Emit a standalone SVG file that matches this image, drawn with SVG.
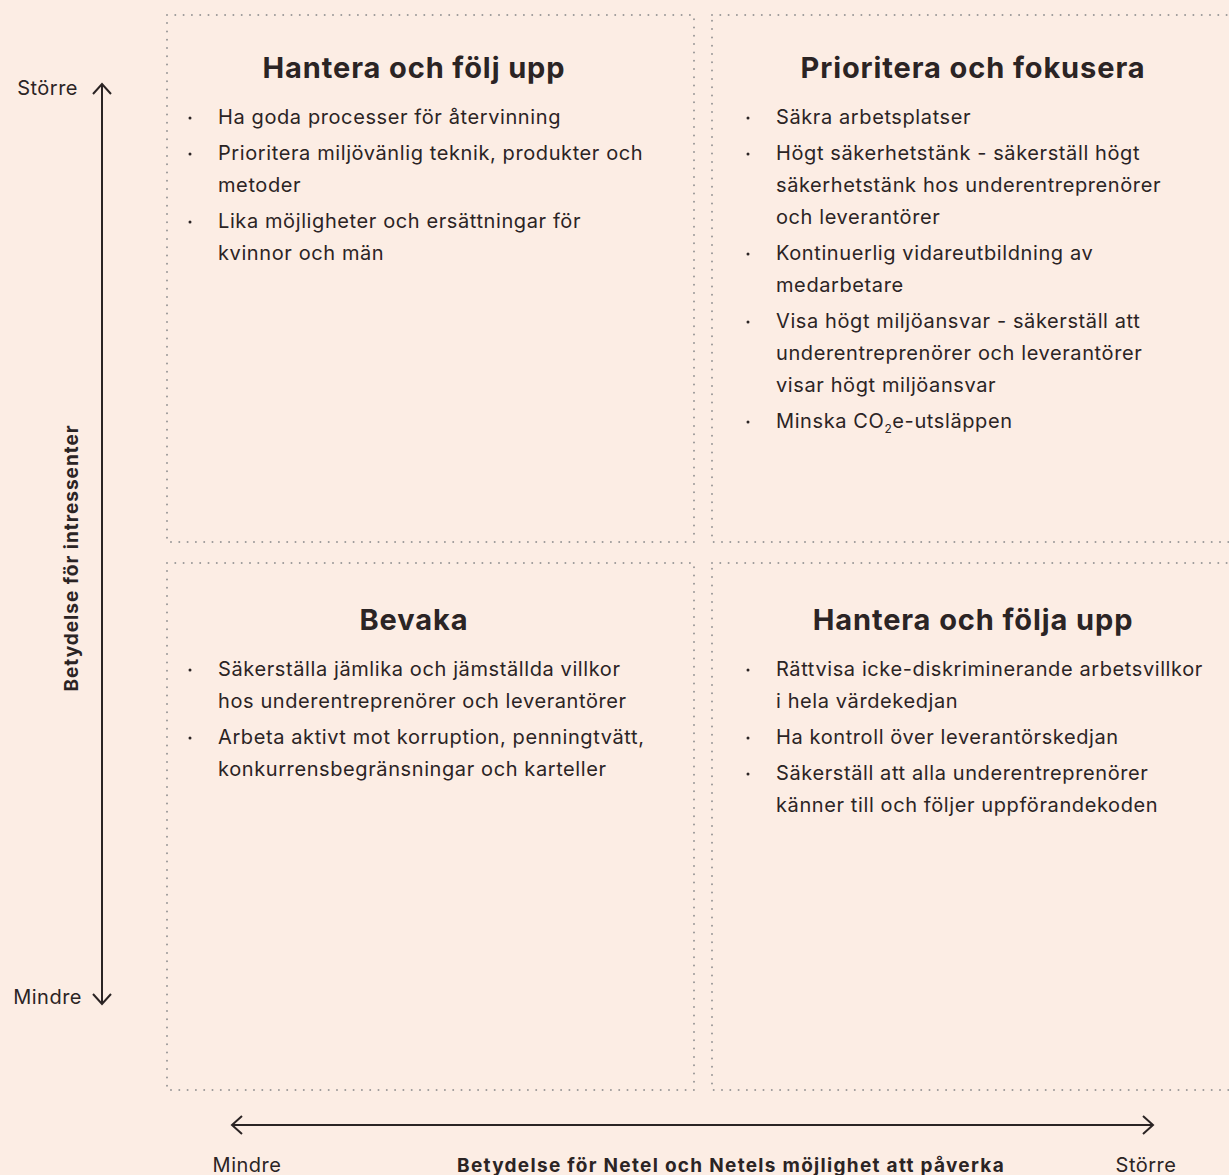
<svg xmlns="http://www.w3.org/2000/svg" width="1229" height="1175" viewBox="0 0 1229 1175">
<defs>
<style>
.bg{fill:#fcede4}
.box{fill:none;stroke:#9a9898;stroke-width:2;stroke-dasharray:0 8.3;stroke-linecap:round}
.t{font-family:Inter,"Open Sans","DejaVu Sans",sans-serif;fill:#2b2424}
.h{font-size:29px;font-weight:700;text-anchor:middle;letter-spacing:0.9px}
.b{font-size:20px;letter-spacing:0.6px}
.ax{font-size:20px;letter-spacing:0.5px}
.axb{font-size:19px;font-weight:700;text-anchor:middle}
.dot{fill:#2b2424}
.arr{fill:none;stroke:#2b2424;stroke-width:2}
</style>
</defs>
<rect class="bg" x="0" y="0" width="1229" height="1175"/>

<g id="q-top-left">
<rect class="box" x="167" y="15" width="527" height="527"/>
<text class="t h" x="414" y="78">Hantera och följ upp</text>
<circle class="dot" cx="190" cy="118" r="1.5"/>
<circle class="dot" cx="190" cy="154" r="1.5"/>
<circle class="dot" cx="190" cy="222" r="1.5"/>
<text class="t b" x="218" y="124">Ha goda processer för återvinning</text>
<text class="t b" x="218" y="160">Prioritera miljövänlig teknik, produkter och</text>
<text class="t b" x="218" y="192">metoder</text>
<text class="t b" x="218" y="228">Lika möjligheter och ersättningar för</text>
<text class="t b" x="218" y="260">kvinnor och män</text>
</g>

<g id="q-top-right">
<rect class="box" x="712" y="15" width="530" height="527"/>
<text class="t h" x="973" y="78">Prioritera och fokusera</text>
<circle class="dot" cx="748" cy="118" r="1.5"/>
<circle class="dot" cx="748" cy="154" r="1.5"/>
<circle class="dot" cx="748" cy="254" r="1.5"/>
<circle class="dot" cx="748" cy="322" r="1.5"/>
<circle class="dot" cx="748" cy="422" r="1.5"/>
<text class="t b" x="776" y="124">Säkra arbetsplatser</text>
<text class="t b" x="776" y="160">Högt säkerhetstänk - säkerställ högt</text>
<text class="t b" x="776" y="192">säkerhetstänk hos underentreprenörer</text>
<text class="t b" x="776" y="224">och leverantörer</text>
<text class="t b" x="776" y="260">Kontinuerlig vidareutbildning av</text>
<text class="t b" x="776" y="292">medarbetare</text>
<text class="t b" x="776" y="328">Visa högt miljöansvar - säkerställ att</text>
<text class="t b" x="776" y="360">underentreprenörer och leverantörer</text>
<text class="t b" x="776" y="392">visar högt miljöansvar</text>
<text class="t b" x="776" y="428">Minska CO<tspan font-size="12" dy="5">2</tspan><tspan dy="-5">e-utsläppen</tspan></text>
</g>

<g id="q-bottom-left">
<rect class="box" x="167" y="563" width="527" height="527"/>
<text class="t h" x="414" y="630">Bevaka</text>
<circle class="dot" cx="190" cy="670" r="1.5"/>
<circle class="dot" cx="190" cy="738" r="1.5"/>
<text class="t b" x="218" y="676">Säkerställa jämlika och jämställda villkor</text>
<text class="t b" x="218" y="708">hos underentreprenörer och leverantörer</text>
<text class="t b" x="218" y="744">Arbeta aktivt mot korruption, penningtvätt,</text>
<text class="t b" x="218" y="776">konkurrensbegränsningar och karteller</text>
</g>

<g id="q-bottom-right">
<rect class="box" x="712" y="563" width="530" height="527"/>
<text class="t h" x="973" y="630">Hantera och följa upp</text>
<circle class="dot" cx="748" cy="670" r="1.5"/>
<circle class="dot" cx="748" cy="738" r="1.5"/>
<circle class="dot" cx="748" cy="774" r="1.5"/>
<text class="t b" x="776" y="676">Rättvisa icke-diskriminerande arbetsvillkor</text>
<text class="t b" x="776" y="708">i hela värdekedjan</text>
<text class="t b" x="776" y="744">Ha kontroll över leverantörskedjan</text>
<text class="t b" x="776" y="780">Säkerställ att alla underentreprenörer</text>
<text class="t b" x="776" y="812">känner till och följer uppförandekoden</text>
</g>

<g id="connectors">
<path class="arr" d="M102 84 V1004"/>
<path class="arr" d="M93 94 L102 84 L111 94"/>
<path class="arr" d="M93 994 L102 1004 L111 994"/>
<path class="arr" d="M232 1125 H1153"/>
<path class="arr" d="M242 1116 L232 1125 L242 1134"/>
<path class="arr" d="M1143 1116 L1153 1125 L1143 1134"/>
</g>

<g id="axis-labels">
<text class="t ax" text-anchor="end" x="78" y="95">Större</text>
<text class="t ax" text-anchor="end" x="82" y="1004">Mindre</text>
<text class="t axb" style="letter-spacing:1px" transform="translate(78 558) rotate(-90)">Betydelse för intressenter</text>
<text class="t ax" text-anchor="middle" x="247" y="1172">Mindre</text>
<text class="t ax" text-anchor="middle" x="1146" y="1172">Större</text>
<text class="t axb" style="letter-spacing:1.3px" x="731" y="1172">Betydelse för Netel och Netels möjlighet att påverka</text>
</g>
</svg>
